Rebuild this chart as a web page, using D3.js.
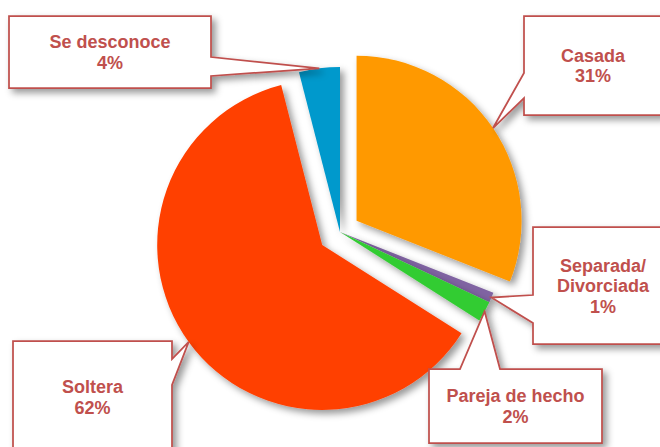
<!DOCTYPE html>
<html>
<head>
<meta charset="utf-8">
<script src="https://cdn.jsdelivr.net/npm/d3@7"></script>
<style>
  body { margin: 0; background: #fff; }
  svg { display: block; }
</style>
</head>
<body>
<script>
// chart data
var categories = ["Casada", "Separada/Divorciada", "Pareja de hecho", "Soltera", "Se desconoce"];
var values = [31, 1, 2, 62, 4];
var colors = ["#FF9900", "#8064A2", "#33CC33", "#FF3F00", "#0099CC"];

// layout
var width = 660, height = 447;
var cx = 340, cy = 232, radius = 165;
var explode = [20, 0, 0, 22, 0];
var boxes = [
  {x: 524, y: 16,  w: 138, h: 99,  side: "left",  b: [73, 98]},
  {x: 533, y: 227, w: 140, h: 117, side: "left",  b: [295, 323]},
  {x: 429, y: 369, w: 173, h: 74,  side: "top",   b: [460, 500]},
  {x: 13,  y: 341, w: 159, h: 112, side: "right", b: [359, 385]},
  {x: 9,   y: 16,  w: 202, h: 72,  side: "right", b: [57, 76]}
];
var labelColor = "#C0504D";

var svg = d3.select("body").append("svg")
  .attr("width", width)
  .attr("height", height);

// soft shadow used by slices and callouts
var defs = svg.append("defs");
var shadow = defs.append("filter").attr("id", "shadow")
  .attr("x", "-20%").attr("y", "-20%").attr("width", "150%").attr("height", "150%");
shadow.append("feDropShadow")
  .attr("dx", 4).attr("dy", 4).attr("stdDeviation", 3.5)
  .attr("flood-color", "#000").attr("flood-opacity", 0.4);

var pie = d3.pie().sort(null).value(function (d) { return d; });
var arcs = pie(values);
var arc = d3.arc().innerRadius(0).outerRadius(radius);
var rimArc = d3.arc().innerRadius(radius).outerRadius(radius);

// offset of each exploded slice along its mid angle
function sliceOffset(d, i) {
  var mid = (d.startAngle + d.endAngle) / 2;
  return [cx + explode[i] * Math.sin(mid), cy - explode[i] * Math.cos(mid)];
}

var slices = svg.append("g");
slices.selectAll("path")
  .data(arcs)
  .enter()
  .append("path")
  .attr("transform", function (d, i) { return "translate(" + sliceOffset(d, i) + ")"; })
  .attr("d", arc)
  .attr("fill", function (d, i) { return colors[i]; })
  .attr("filter", "url(#shadow)");

// callout shape: rectangle with a wedge pointing to the slice rim
function calloutPath(bx, tip) {
  var x0 = bx.x, y0 = bx.y, x1 = bx.x + bx.w, y1 = bx.y + bx.h;
  var p = d3.path();
  p.moveTo(x0, y0);
  if (bx.side == "top") { p.lineTo(bx.b[0], y0); p.lineTo(tip[0], tip[1]); p.lineTo(bx.b[1], y0); }
  p.lineTo(x1, y0);
  if (bx.side == "right") { p.lineTo(x1, bx.b[0]); p.lineTo(tip[0], tip[1]); p.lineTo(x1, bx.b[1]); }
  p.lineTo(x1, y1);
  p.lineTo(x0, y1);
  if (bx.side == "left") { p.lineTo(x0, bx.b[1]); p.lineTo(tip[0], tip[1]); p.lineTo(x0, bx.b[0]); }
  p.closePath();
  return p.toString();
}

var callouts = svg.append("g").selectAll("g")
  .data(arcs)
  .enter()
  .append("g");

callouts.append("path")
  .attr("d", function (d, i) {
    var off = sliceOffset(d, i);
    var c = rimArc.centroid(d);
    return calloutPath(boxes[i], [off[0] + c[0], off[1] + c[1]]);
  })
  .attr("fill", "#fff")
  .attr("stroke", labelColor)
  .attr("stroke-width", 1.75)
  .attr("stroke-linejoin", "miter")
  .attr("filter", "url(#shadow)");

var lineHeight = 20.5;
callouts.append("text")
  .attr("font-family", "'Liberation Sans', Arial, sans-serif")
  .attr("font-weight", "bold")
  .attr("font-size", 18)
  .attr("fill", labelColor)
  .attr("text-anchor", "middle")
  .each(function (d, i) {
    var bx = boxes[i];
    var name = categories[i];
    var slash = name.indexOf("/");
    var lines = slash >= 0 ? [name.slice(0, slash + 1), name.slice(slash + 1)] : [name];
    lines.push(values[i] + "%");
    var midX = bx.x + bx.w / 2;
    var midY = bx.y + bx.h / 2;
    var firstBase = midY - (lines.length - 1) * lineHeight / 2 + 6.5;
    var t = d3.select(this);
    lines.forEach(function (s, k) {
      t.append("tspan")
        .attr("x", midX)
        .attr("y", firstBase + k * lineHeight)
        .text(s);
    });
  });
</script>
</body>
</html>
